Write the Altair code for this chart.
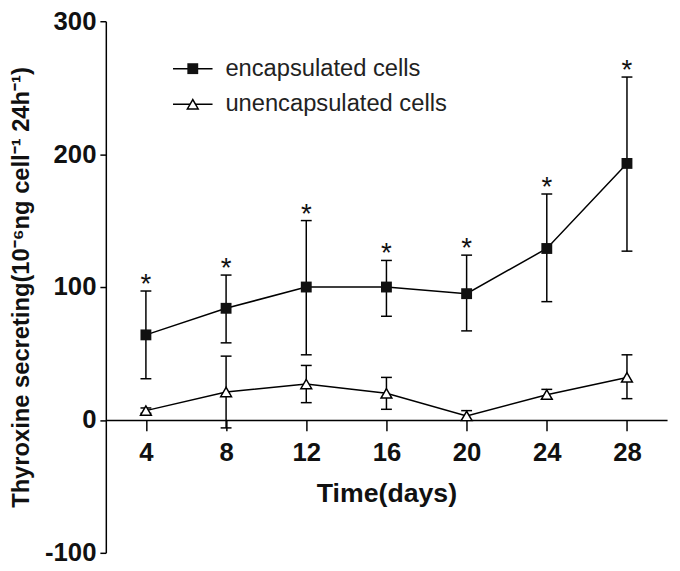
import altair as alt
import pandas as pd

# ---- data ----
days = [4, 8, 12, 16, 20, 24, 28]
enc_mean = [64, 84, 100, 100, 95, 129, 193]
enc_low = [31, 58, 49, 78, 67, 89, 127]
enc_high = [97, 109, 150, 120, 124, 170, 258]
unenc_mean = [7, 21, 27, 20, 3, 19, 32]
unenc_low = [5, -6, 13, 8, 0, 16, 16]
unenc_high = [9, 48, 41, 32, 7, 23, 49]
x_ticks = [4, 8, 12, 16, 20, 24, 28]
y_ticks = [-100, 0, 100, 200, 300]
series_names = ["encapsulated cells", "unencapsulated cells"]
x_title = "Time(days)"
y_title = "Thyroxine secreting(10\u207b\u2076ng cell\u207b\u00b9 24h\u207b\u00b9)"

enc_df = pd.DataFrame({"day": days, "mean": enc_mean, "low": enc_low, "high": enc_high})
unenc_df = pd.DataFrame({"day": days, "mean": unenc_mean, "low": unenc_low, "high": unenc_high})

W, H = 568, 538
FONT = "Liberation Sans"
x_scale = alt.Scale(domain=[2, 30], nice=False, zero=False)
y_scale = alt.Scale(domain=[-100, 300], nice=False)

x_axis = alt.Axis(values=x_ticks, title=x_title, offset=-H / 4, grid=False,
                  domainColor="black", domainWidth=1.5, tickColor="black", tickWidth=1.5,
                  tickSize=11, labelPadding=9, labelFont=FONT, labelFontSize=26,
                  labelFontWeight="bold", labelColor="#111", titleFont=FONT,
                  titleFontSize=27, titleFontWeight="bold", titleColor="#111",
                  titlePadding=16, labelExpr="'' + datum.value")
y_axis = alt.Axis(values=y_ticks, title=y_title, grid=False,
                  domainColor="black", domainWidth=1.5, tickColor="black", tickWidth=1.5,
                  tickSize=6, labelPadding=4, labelFont=FONT, labelFontSize=26,
                  labelFontWeight="bold", labelColor="#111", titleFont=FONT,
                  titleFontSize=24, titleFontWeight="bold", titleColor="#111",
                  titlePadding=11, labelExpr="'' + datum.value")


def X():
    return alt.X("day:Q", scale=x_scale, axis=x_axis)


def Y(field):
    return alt.Y(field, scale=y_scale, axis=y_axis)


enc_line = alt.Chart(enc_df).mark_line(color="black", strokeWidth=1.5).encode(x=X(), y=Y("mean:Q"))
unenc_line = alt.Chart(unenc_df).mark_line(color="black", strokeWidth=1.5).encode(x=X(), y=Y("mean:Q"))


def errbars(d):
    r = alt.Chart(d).mark_rule(color="black", strokeWidth=1.5).encode(
        x=X(), y=Y("low:Q"), y2="high:Q")
    lo = alt.Chart(d).mark_tick(orient="horizontal", color="black", size=11, thickness=1.5,
                                opacity=1).encode(x=X(), y=Y("low:Q"))
    hi = alt.Chart(d).mark_tick(orient="horizontal", color="black", size=11, thickness=1.5,
                                opacity=1).encode(x=X(), y=Y("high:Q"))
    return [r, lo, hi]


enc_pts = alt.Chart(enc_df).mark_point(shape="square", filled=True, color="#111",
                                       size=121, opacity=1).encode(x=X(), y=Y("mean:Q"))
unenc_pts = alt.Chart(unenc_df).mark_point(shape="triangle-up", filled=True, fill="white",
                                           stroke="black", strokeWidth=1.5, size=120,
                                           opacity=1).encode(x=X(), y=Y("mean:Q"))

stars = alt.Chart(enc_df).mark_text(text="*", font=FONT, fontSize=28, baseline="alphabetic",
                                    dy=2, color="#111").encode(x=X(), y=Y("high:Q"))

# ---- legend (drawn in pixel space) ----
one = pd.DataFrame({"k": [0]})


def legend_row(ypix, label, kind):
    line = alt.Chart(one).mark_rule(color="black", strokeWidth=1.5).encode(
        x=alt.value(68), x2=alt.value(108), y=alt.value(ypix))
    if kind == "square":
        sym = alt.Chart(one).mark_point(shape="square", filled=True, color="#111", size=121,
                                        opacity=1).encode(x=alt.value(88), y=alt.value(ypix))
    else:
        sym = alt.Chart(one).mark_point(shape="triangle-up", filled=True, fill="white",
                                        stroke="black", strokeWidth=1.5, size=120,
                                        opacity=1).encode(x=alt.value(88), y=alt.value(ypix))
    txt = alt.Chart(one).mark_text(align="left", baseline="middle", font=FONT, fontSize=24,
                                   color="#222").encode(
        x=alt.value(121), y=alt.value(ypix), text=alt.value(label))
    return [line, sym, txt]


layers = ([enc_line, unenc_line] + errbars(enc_df) + errbars(unenc_df)
          + [enc_pts, unenc_pts, stars]
          + legend_row(48, series_names[0], "square")
          + legend_row(84, series_names[1], "triangle"))

chart = alt.layer(*layers).properties(
    width=W, height=H,
    autosize=alt.AutoSizeParams(type="none"),
    padding={"left": 99, "top": 10, "right": 5, "bottom": 15},
).configure(background="white").configure_view(stroke=None)

chart.save("out.html", embed_options={"renderer": "svg", "actions": False})
